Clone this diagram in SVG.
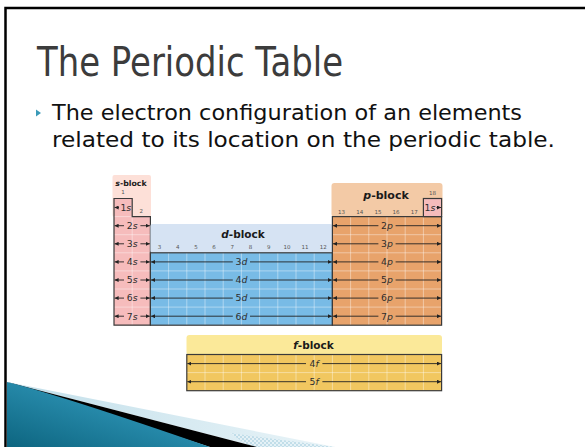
<svg xmlns="http://www.w3.org/2000/svg" width="585" height="447" viewBox="0 0 585 447">
<defs>
<style>
.title{font-family:"DejaVu Sans","Liberation Sans",sans-serif;font-size:40px;fill:#3c3c3c}
.body{font-family:"DejaVu Sans","Liberation Sans",sans-serif;font-size:21px;fill:#111}
.blk{font-family:"DejaVu Sans",sans-serif;font-weight:bold;fill:#1a1a1a;text-anchor:middle}
.num{font-family:"DejaVu Sans",sans-serif;font-size:5.5px;fill:#555;text-anchor:middle}
.lab{font-family:"DejaVu Sans",sans-serif;font-size:9.3px;fill:#2e2e2e;text-anchor:middle}
.outline{fill:none;stroke:#3a3a3a;stroke-width:1.2}
.grid{stroke:#fff;stroke-opacity:.5;stroke-width:.8;fill:none}
.arr line{stroke:#222;stroke-width:.9;marker-end:url(#ah)}
</style>
<marker id="ah" markerWidth="4" markerHeight="4" refX="4" refY="2" orient="auto" markerUnits="userSpaceOnUse">
<path d="M0,0 L4,2 L0,4 z" fill="#222"/>
</marker>
<linearGradient id="teal" x1="0" y1="1" x2="1" y2="0">
<stop offset="0" stop-color="#0d6580"/>
<stop offset="0.6" stop-color="#2a8fb0"/>
<stop offset="1" stop-color="#4fb0cf"/>
</linearGradient>
<linearGradient id="lb" x1="0" y1="0" x2="1" y2="0">
<stop offset="0" stop-color="#c2dfea"/>
<stop offset="1" stop-color="#e9f4f8"/>
</linearGradient>
<pattern id="dots" width="4" height="4" patternUnits="userSpaceOnUse">
<rect width="4" height="4" fill="#e6f2f7"/>
<rect width="2" height="2" fill="#b9d9e6"/>
<rect x="2" y="2" width="2" height="2" fill="#b9d9e6"/>
</pattern>
</defs>
<rect width="585" height="447" fill="#fff"/>
<!-- slide frame -->
<path d="M5.5,447 L5.5,8 L585,8" fill="none" stroke="#000" stroke-width="2.5"/>
<!-- bottom-left decoration -->
<path d="M7,382 L335,447 L257,447 Z" fill="url(#lb)"/>
<path d="M230,433 L335,447 L250,447 Z" fill="url(#dots)" opacity="0.8"/>
<path d="M7,382 L257,447 L210,447 Z" fill="#000"/>
<path d="M7,382 Q60,395 210,447 L7,447 Z" fill="url(#teal)"/>
<!-- title and text -->
<text class="title" x="37" y="76" textLength="306" lengthAdjust="spacingAndGlyphs">The Periodic Table</text>
<polygon points="36,109.5 41,113 36,116.5" fill="#3a9ab8"/>
<text class="body" x="52" y="120" textLength="470" lengthAdjust="spacingAndGlyphs">The electron configuration of an elements</text>
<text class="body" x="52" y="147" textLength="503" lengthAdjust="spacingAndGlyphs">related to its location on the periodic table.</text>
<!-- s-block -->
<g id="s-block">
<rect x="112.5" y="175" width="38.5" height="42" rx="2" fill="#fde0d8"/>
<path d="M114,198.5 L132.2,198.5 L132.2,216.6 L150.4,216.6 L150.4,325.2 L114,325.2 Z" fill="#f6bcbc"/>
<path class="grid" d="M132.2,216.6 V325.2 M114,216.6 H132.2 M114,234.7 H150.4 M114,252.8 H150.4 M114,270.9 H150.4 M114,289 H150.4 M114,307.1 H150.4"/>
<path class="outline" d="M114,198.5 L132.2,198.5 L132.2,216.6 L150.4,216.6 L150.4,325.2 L114,325.2 Z"/>
<text class="blk" x="131" y="186" font-size="7.8"><tspan font-style="italic">s</tspan>-block</text>
<text class="num" x="123.1" y="194">1</text>
<text class="num" x="141.3" y="213">2</text>
</g>
<!-- d-block -->
<g id="d-block">
<rect x="150.4" y="224" width="182" height="29" rx="2" fill="#d6e3f3"/>
<rect x="150.4" y="252.8" width="182" height="72.4" fill="#78bbe6"/>
<path class="grid" d="M168.6,252.8V325.2 M186.8,252.8V325.2 M205,252.8V325.2 M223.2,252.8V325.2 M241.4,252.8V325.2 M259.6,252.8V325.2 M277.8,252.8V325.2 M296,252.8V325.2 M314.2,252.8V325.2 M150.4,270.9H332.4 M150.4,289H332.4 M150.4,307.1H332.4"/>
<rect class="outline" x="150.4" y="252.8" width="182" height="72.4"/>
<text class="blk" x="243" y="237.5" font-size="10.5"><tspan font-style="italic">d</tspan>-block</text>
<text class="num" y="249"><tspan x="159.5">3</tspan><tspan x="177.7">4</tspan><tspan x="195.9">5</tspan><tspan x="214.1">6</tspan><tspan x="232.3">7</tspan><tspan x="250.5">8</tspan><tspan x="268.7">9</tspan><tspan x="286.9">10</tspan><tspan x="305.1">11</tspan><tspan x="323.3">12</tspan></text>
</g>
<!-- p-block -->
<g id="p-block">
<rect x="331.5" y="183" width="111" height="34" rx="3" fill="#f3caa6"/>
<rect x="332.4" y="216.6" width="109.2" height="108.6" fill="#e8a36b"/>
<rect x="423.4" y="198.5" width="18.2" height="18.1" fill="#f6bcbc"/>
<path class="grid" d="M350.6,216.6V325.2 M368.8,216.6V325.2 M387,216.6V325.2 M405.2,216.6V325.2 M423.4,216.6V325.2 M332.4,234.7H441.6 M332.4,252.8H441.6 M332.4,270.9H441.6 M332.4,289H441.6 M332.4,307.1H441.6"/>
<rect class="outline" x="332.4" y="216.6" width="109.2" height="108.6"/>
<rect class="outline" x="423.4" y="198.5" width="18.2" height="18.1"/>
<text class="blk" x="386" y="199" font-size="11"><tspan font-style="italic">p</tspan>-block</text>
<text class="num" y="214"><tspan x="341.5">13</tspan><tspan x="359.7">14</tspan><tspan x="377.9">15</tspan><tspan x="396.1">16</tspan><tspan x="414.3">17</tspan></text>
<text class="num" x="432.5" y="195">18</text>
</g>
<!-- f-block -->
<g id="f-block">
<rect x="186.5" y="335" width="255.5" height="20" rx="3" fill="#fbe999"/>
<rect x="186.8" y="354.5" width="254.8" height="36.2" fill="#f1c760"/>
<path class="grid" d="M205,354.5V390.7 M223.2,354.5V390.7 M241.4,354.5V390.7 M259.6,354.5V390.7 M277.8,354.5V390.7 M296,354.5V390.7 M314.2,354.5V390.7 M332.4,354.5V390.7 M350.6,354.5V390.7 M368.8,354.5V390.7 M387,354.5V390.7 M405.2,354.5V390.7 M423.4,354.5V390.7 M186.8,372.6H441.6"/>
<rect class="outline" x="186.8" y="354.5" width="254.8" height="36.2"/>
<text class="blk" x="313.5" y="349" font-size="10.5"><tspan font-style="italic">f</tspan>-block</text>
</g>
<!-- orbital arrows -->
<g id="connectors" class="arr">
<line x1="119" y1="207.5" x2="114.6" y2="207.5"/>
<line x1="436.5" y1="207.5" x2="441" y2="207.5"/>
<line x1="124" y1="225.7" x2="114.6" y2="225.7"/><line x1="140.4" y1="225.7" x2="149.8" y2="225.7"/>
<line x1="124" y1="243.8" x2="114.6" y2="243.8"/><line x1="140.4" y1="243.8" x2="149.8" y2="243.8"/>
<line x1="124" y1="261.9" x2="114.6" y2="261.9"/><line x1="140.4" y1="261.9" x2="149.8" y2="261.9"/>
<line x1="124" y1="280" x2="114.6" y2="280"/><line x1="140.4" y1="280" x2="149.8" y2="280"/>
<line x1="124" y1="298.1" x2="114.6" y2="298.1"/><line x1="140.4" y1="298.1" x2="149.8" y2="298.1"/>
<line x1="124" y1="316.2" x2="114.6" y2="316.2"/><line x1="140.4" y1="316.2" x2="149.8" y2="316.2"/>
<line x1="232.8" y1="261.9" x2="151" y2="261.9"/><line x1="250" y1="261.9" x2="331.8" y2="261.9"/>
<line x1="232.8" y1="280" x2="151" y2="280"/><line x1="250" y1="280" x2="331.8" y2="280"/>
<line x1="232.8" y1="298.1" x2="151" y2="298.1"/><line x1="250" y1="298.1" x2="331.8" y2="298.1"/>
<line x1="232.8" y1="316.2" x2="151" y2="316.2"/><line x1="250" y1="316.2" x2="331.8" y2="316.2"/>
<line x1="378.4" y1="225.7" x2="333" y2="225.7"/><line x1="395.6" y1="225.7" x2="441" y2="225.7"/>
<line x1="378.4" y1="243.8" x2="333" y2="243.8"/><line x1="395.6" y1="243.8" x2="441" y2="243.8"/>
<line x1="378.4" y1="261.9" x2="333" y2="261.9"/><line x1="395.6" y1="261.9" x2="441" y2="261.9"/>
<line x1="378.4" y1="280" x2="333" y2="280"/><line x1="395.6" y1="280" x2="441" y2="280"/>
<line x1="378.4" y1="298.1" x2="333" y2="298.1"/><line x1="395.6" y1="298.1" x2="441" y2="298.1"/>
<line x1="378.4" y1="316.2" x2="333" y2="316.2"/><line x1="395.6" y1="316.2" x2="441" y2="316.2"/>
<line x1="306" y1="363.6" x2="187.4" y2="363.6"/><line x1="322.4" y1="363.6" x2="441" y2="363.6"/>
<line x1="306" y1="381.7" x2="187.4" y2="381.7"/><line x1="322.4" y1="381.7" x2="441" y2="381.7"/>
</g>
<g id="labels">
<text class="lab" x="125.8" y="210.8">1<tspan font-style="italic">s</tspan></text>
<text class="lab" x="132.2" y="229">2<tspan font-style="italic">s</tspan></text>
<text class="lab" x="132.2" y="247.1">3<tspan font-style="italic">s</tspan></text>
<text class="lab" x="132.2" y="265.2">4<tspan font-style="italic">s</tspan></text>
<text class="lab" x="132.2" y="283.3">5<tspan font-style="italic">s</tspan></text>
<text class="lab" x="132.2" y="301.4">6<tspan font-style="italic">s</tspan></text>
<text class="lab" x="132.2" y="319.5">7<tspan font-style="italic">s</tspan></text>
<text class="lab" x="241.4" y="265.2">3<tspan font-style="italic">d</tspan></text>
<text class="lab" x="241.4" y="283.3">4<tspan font-style="italic">d</tspan></text>
<text class="lab" x="241.4" y="301.4">5<tspan font-style="italic">d</tspan></text>
<text class="lab" x="241.4" y="319.5">6<tspan font-style="italic">d</tspan></text>
<text class="lab" x="387" y="229">2<tspan font-style="italic">p</tspan></text>
<text class="lab" x="387" y="247.1">3<tspan font-style="italic">p</tspan></text>
<text class="lab" x="387" y="265.2">4<tspan font-style="italic">p</tspan></text>
<text class="lab" x="387" y="283.3">5<tspan font-style="italic">p</tspan></text>
<text class="lab" x="387" y="301.4">6<tspan font-style="italic">p</tspan></text>
<text class="lab" x="387" y="319.5">7<tspan font-style="italic">p</tspan></text>
<text class="lab" x="430" y="210.8">1<tspan font-style="italic">s</tspan></text>
<text class="lab" x="314.2" y="366.9">4<tspan font-style="italic">f</tspan></text>
<text class="lab" x="314.2" y="385">5<tspan font-style="italic">f</tspan></text>
</g>
</svg>
